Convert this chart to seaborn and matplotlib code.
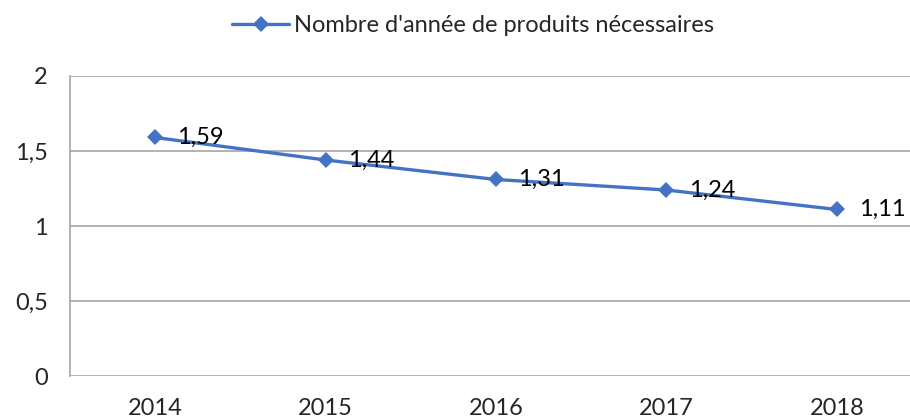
import pandas as pd
import matplotlib.pyplot as plt
import seaborn as sns
from matplotlib.ticker import FuncFormatter, MultipleLocator

# Chart data
annees = ['2014', '2015', '2016', '2017', '2018']
valeurs = [1.59, 1.44, 1.31, 1.24, 1.11]
serie = "Nombre d'année de produits nécessaires"

df = pd.DataFrame({'annee': annees, 'valeur': valeurs})

sns.set_style('white')
plt.rcParams['font.family'] = ['Lato', 'DejaVu Sans']
fs = 17

fig = plt.figure(figsize=(9.10, 4.19), dpi=100)
ax = fig.add_axes([70 / 910, 43 / 419, 852 / 910, 300 / 419])

bleu = '#4472C4'
sns.lineplot(data=df, x='annee', y='valeur', ax=ax, color=bleu, linewidth=2.4,
             marker='D', markersize=8, markeredgewidth=0, label=serie, sort=False)

# data labels to the right of each point
for i, v in enumerate(valeurs):
    ax.annotate(f'{v:.2f}'.replace('.', ','), (i, v), xytext=(16, 0),
                textcoords='offset points', ha='left', va='center',
                fontsize=fs, color='black')

ax.set_xlim(-0.5, 4.5)
ax.set_ylim(0, 2)
ax.yaxis.set_major_locator(MultipleLocator(0.5))
ax.yaxis.set_major_formatter(FuncFormatter(lambda v, p: f'{v:g}'.replace('.', ',')))
ax.grid(axis='y', color='#a6a6a6', linewidth=1.2)
ax.set_axisbelow(True)

for s in ['top', 'right', 'bottom']:
    ax.spines[s].set_visible(False)
ax.spines['left'].set_color('#a6a6a6')
ax.spines['left'].set_linewidth(1.2)

ax.tick_params(axis='y', length=6, width=1.2, color='#a6a6a6', pad=10, labelsize=fs)
ax.tick_params(axis='x', length=0, pad=16, labelsize=fs)
ax.set_xlabel('')
ax.set_ylabel('')

leg = ax.legend(loc='center', bbox_to_anchor=(403 / 852, (419 - 26 - 43) / 300),
                bbox_transform=ax.transAxes, frameon=False, fontsize=fs,
                handlelength=2.4, handletextpad=0.2)

fig.savefig('out.png', dpi=100)
